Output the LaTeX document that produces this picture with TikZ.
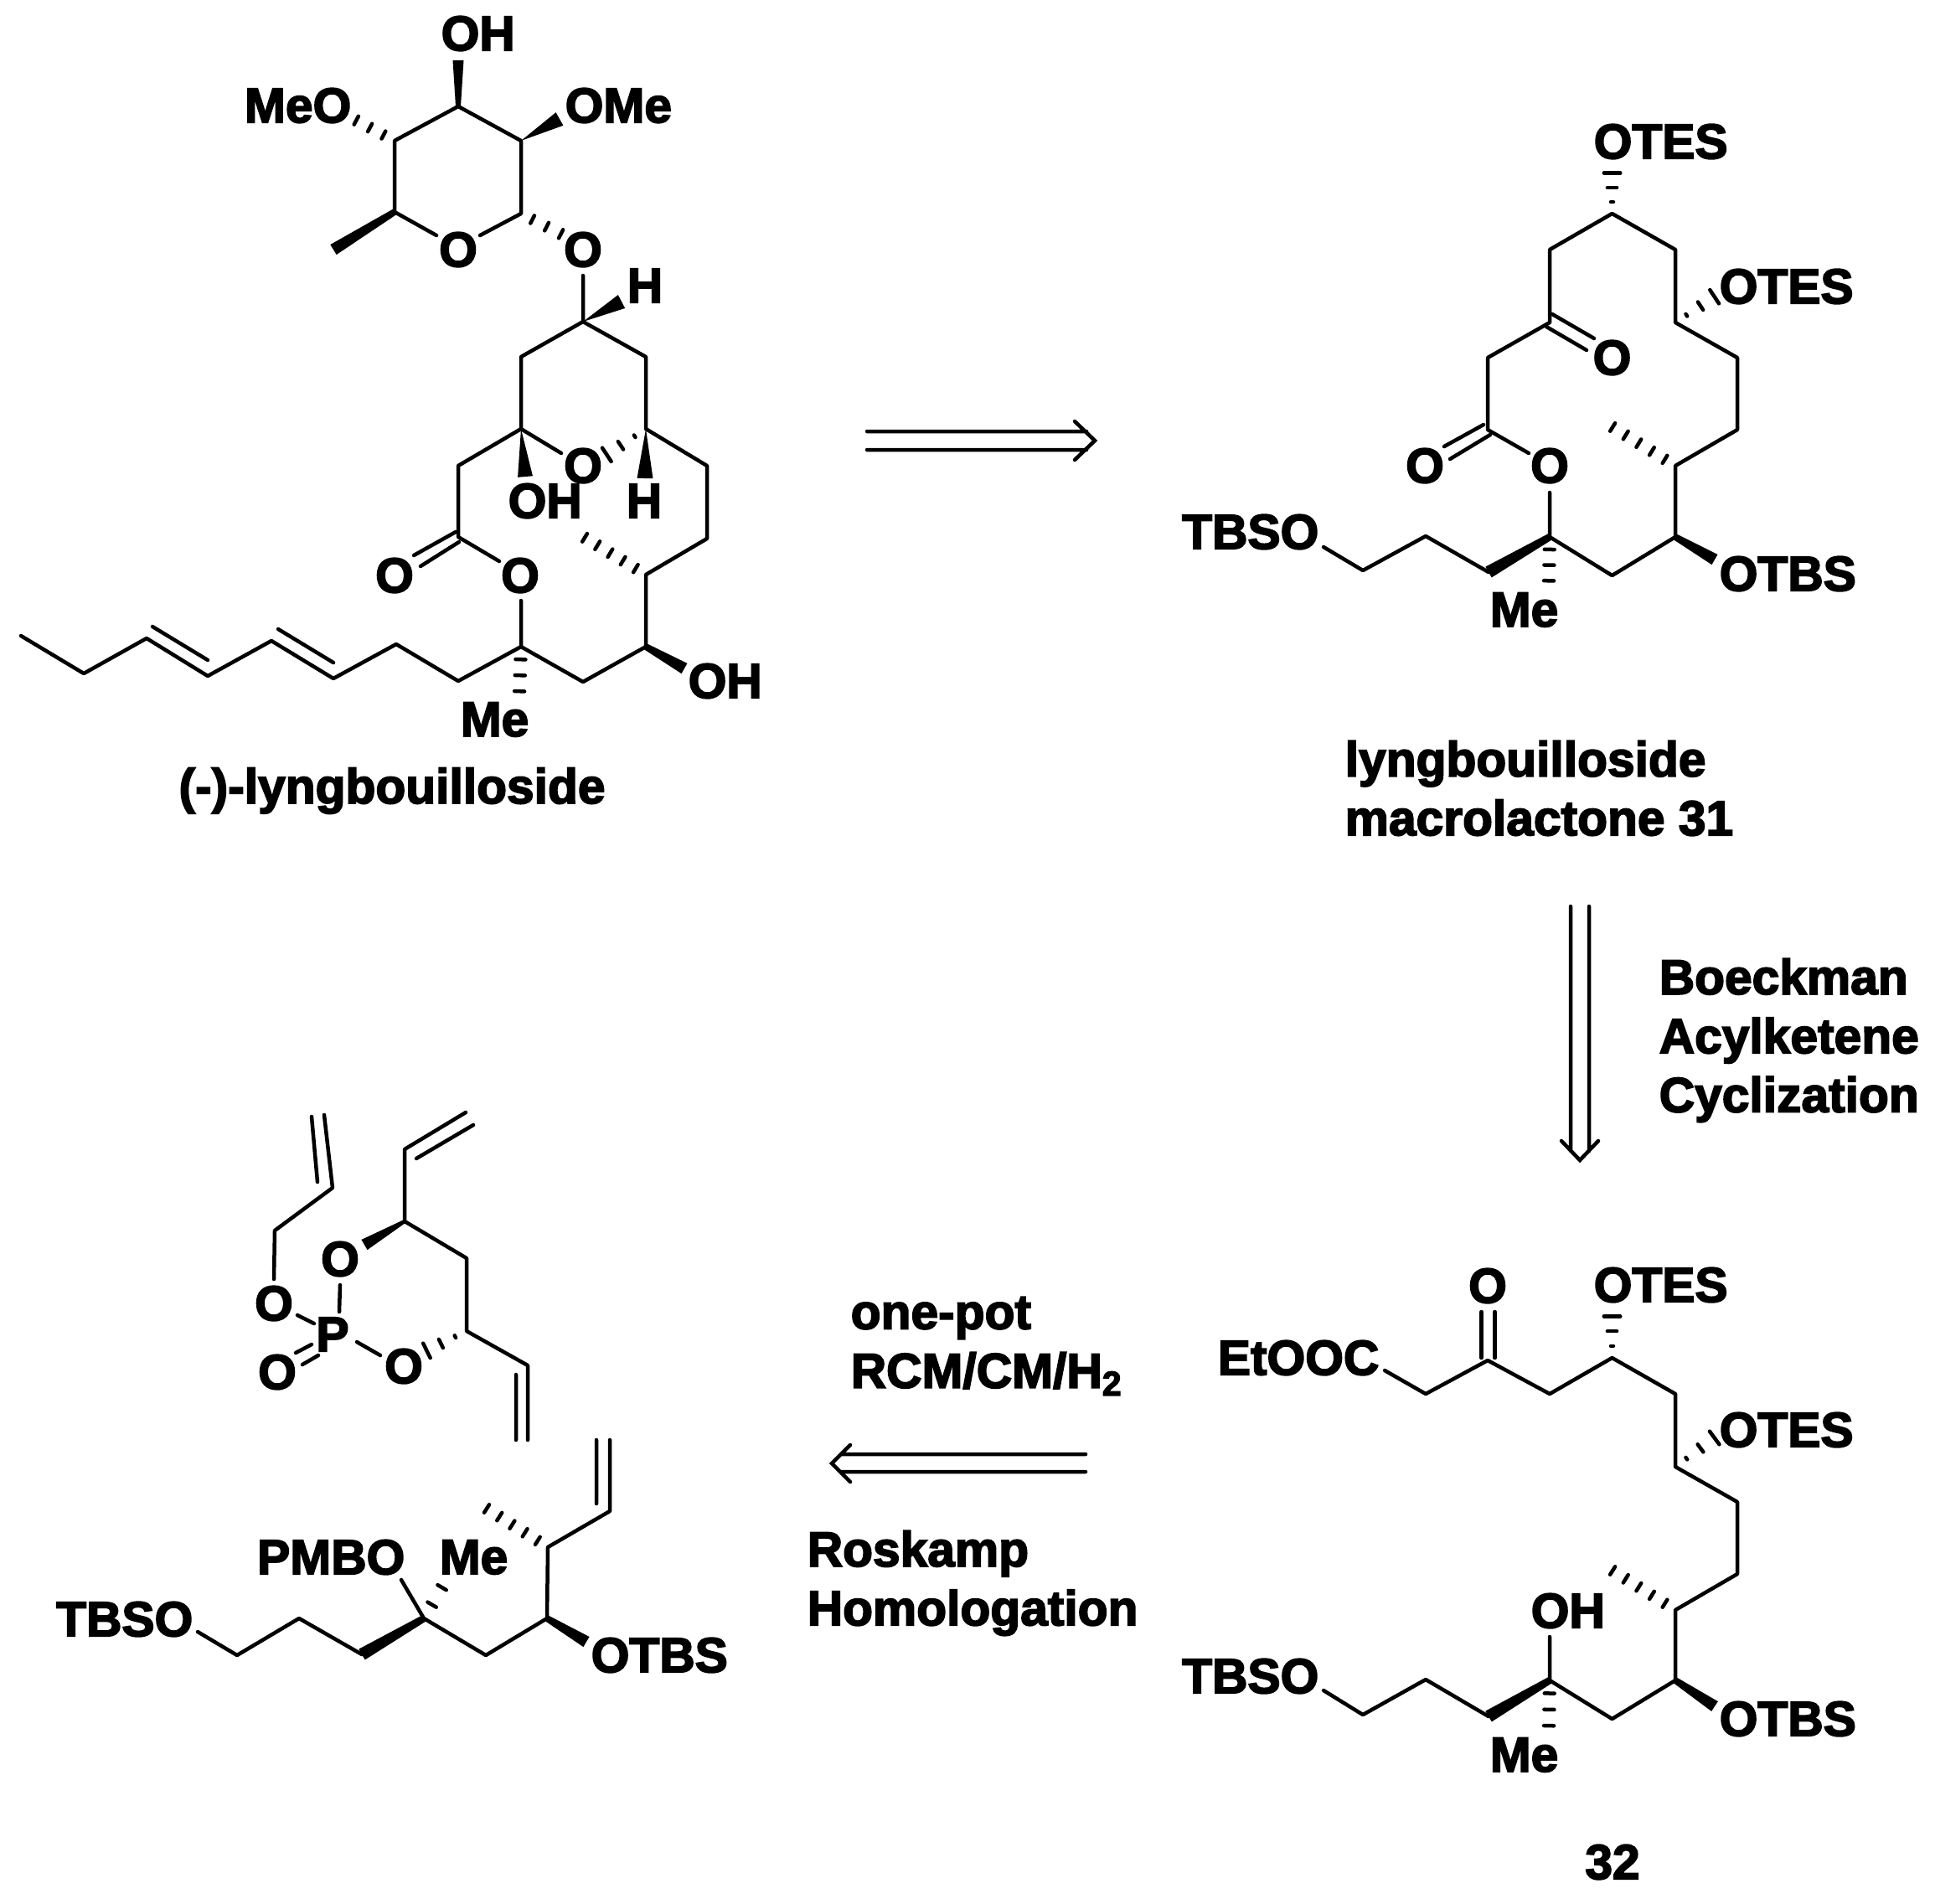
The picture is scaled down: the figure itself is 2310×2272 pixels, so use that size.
\documentclass[tikz,border=0pt]{standalone}
\usepackage{fontspec}
\setmainfont{Liberation Sans}[BoldFeatures={FakeBold=3}]
\usetikzlibrary{calc}
\tikzset{
  bond/.style={line width=0.045cm, line cap=round, line join=round},
  hashline/.style={line width=0.045cm, line cap=round},
  retro/.style={line width=0.045cm, line cap=round, line join=miter},
  chemlabel/.style={font=\fontsize{16.7}{20}\selectfont\bfseries, inner sep=0pt, align=left}
}
\newcommand{\atoms}[1]{\foreach \n/\x/\y in {#1} {\coordinate (\n) at (\x,\y);}}
\newcommand{\wedgebond}[4]{\fill ($(#1)!#3!90:(#2)$) -- ($(#2)!#4!-90:(#1)$) -- ($(#2)!#4!90:(#1)$) -- ($(#1)!#3!-90:(#2)$) -- cycle;}
\newcommand{\hashbond}[5]{%
  \foreach \i in {1,...,#3} {
    \pgfmathsetmacro{\hashpos}{(\i-0.2)/#3}
    \pgfmathsetmacro{\hashwid}{#4+(#5-#4)*\hashpos}
    \draw[hashline] ($(#1)!\hashpos!(#2)!\hashwid pt!90:(#2)$) -- ($(#1)!\hashpos!(#2)!\hashwid pt!-90:(#2)$);
  }}
\begin{document}
\begin{tikzpicture}[x=0.01cm, y=-0.01cm]
  \useasboundingbox (0,0) rectangle (2310,2272);

  % lyngbouilloside: sugar
  \atoms{ga/547/127, gb/622/168, gc/622/255, gd/573/281, ge/521/281, gf/471/253, gg/471/168,
    gh/547/72, gi/668/142, gj/673/281, gk/398/298, gl/422/142}
  \draw[bond] (gd) -- (gc) -- (gb) -- (ga) -- (gg) -- (gf) -- (ge);
  \wedgebond{ga}{gh}{0.85pt}{1.85pt}
  \wedgebond{gb}{gi}{0pt}{2.55pt}
  \wedgebond{gf}{gk}{1.1pt}{2pt}
  \hashbond{gc}{gj}{3}{1.4pt}{1.6pt}
  \hashbond{gg}{gl}{3}{1.4pt}{1.6pt}
  \node[chemlabel, anchor=west] (gho) at (526,40) {OH};
  \node[chemlabel, anchor=east] (gme) at (420,126) {MeO};
  \node[chemlabel, anchor=west] (gom) at (674,126) {OMe};
  \node[chemlabel, anchor=center] (gro) at (547,298) {O};
  \node[chemlabel, anchor=center] (glo) at (696,298) {O};

  % lyngbouilloside: macrolactone
  \atoms{ma/696/329, mb/696/384, mc/622/426, md/622/512, me/771/426, mf/771/512,
    mg/742/360, mh/670/541, mi/721/545, mj/627/569, mk/770/571,
    ml/547/556, mm/547/641, mn/544/635, mo/494/663, mp/548/647, mq/502/676, mr/596/670,
    ms/622/717, mt/622/772, mu/844/556, mv/844/643, mw/771/686, mx/771/772, my/696/814,
    mz/695/640, na/817/798, nb/620/829, nc/547/813, nd/473/769, ne/398/810, nf/324/765,
    ng/248/807, nh/175/762, ni/100/804, nj/25/759, nk/398/791, nl/332/751, nm/248/788, nn/182/748}
  \draw[bond] (ma) -- (mb) -- (mc) -- (md) -- (mh);
  \draw[bond] (mb) -- (me) -- (mf) -- (mu) -- (mv) -- (mw) -- (mx) -- (my) -- (mt) -- (ms);
  \draw[bond] (md) -- (ml) -- (mm) -- (mr);
  \draw[bond] (mn) -- (mo) (mp) -- (mq);
  \draw[bond] (mt) -- (nc) -- (nd) -- (ne) -- (nf) -- (ng) -- (nh) -- (ni) -- (nj);
  \draw[bond] (nk) -- (nl) (nm) -- (nn);
  \wedgebond{mb}{mg}{0pt}{2.55pt}
  \wedgebond{md}{mj}{0pt}{2.55pt}
  \wedgebond{mf}{mk}{0pt}{2.7pt}
  \wedgebond{mx}{na}{1.1pt}{2pt}
  \hashbond{mf}{mi}{3}{-0.5pt}{3pt}
  \hashbond{mw}{mz}{5}{1.5pt}{1.6pt}
  \hashbond{mt}{nb}{3}{1.7pt}{1.7pt}
  \node[chemlabel, anchor=center] (mho) at (770,341) {H};
  \node[chemlabel, anchor=center] (mbo) at (696,556) {O};
  \node[chemlabel, anchor=west] (moh) at (606,598) {OH};
  \node[chemlabel, anchor=center] (mhb) at (769,598) {H};
  \node[chemlabel, anchor=center] (mco) at (471,687) {O};
  \node[chemlabel, anchor=center] (mlo) at (621,687) {O};
  \node[chemlabel, anchor=west] (mhy) at (821,813) {OH};
  \node[chemlabel, anchor=west] (mme) at (549,859) {Me};
  \node[chemlabel, anchor=center] (mtt) at (468,944) {(-)-lyngbouilloside};

  % retro arrows
  \atoms{ra/1035/515, rb/1297/515, rc/1035/537, rd/1297/537, re/1283/503, rf/1307/526, rg/1283/549,
    sa/1875/1082, sb/1875/1374, sc/1897/1082, sd/1897/1374, se/1864/1362, sf/1886/1385, sg/1908/1362,
    ta/1296/1736, tb/1004/1736, tc/1296/1757, td/1004/1757, te/1015/1725, tf/993/1747, tg/1015/1769}
  \draw[retro] (ra) -- (rb) (rc) -- (rd) (re) -- (rf) -- (rg);
  \draw[retro] (sa) -- (sb) (sc) -- (sd) (se) -- (sf) -- (sg);
  \draw[retro] (ta) -- (tb) (tc) -- (td) (te) -- (tf) -- (tg);
  \node[chemlabel, anchor=west] (rca) at (1980,1242) {Boeckman\\Acylketene\\Cyclization};
  \node[chemlabel, anchor=west] (rcb) at (1015,1607) {one-pot\\RCM/CM/H\textsubscript{2}};
  \node[chemlabel, anchor=west] (rcc) at (963,1890) {Roskamp\\Homologation};

  % macrolactone 31
  \atoms{aa/1924.5/255, ab/1924.5/203, ac/2000/298, ad/2000/385, ae/2074/427, af/2074/513, ag/2000/556,
    ah/2000/641, ai/1924.5/687, aj/1850/641, ak/1850/588, al/1850/298, am/1850/385, an/1776/427, ao/1776/513,
    ap/1853/375, aq/1903/404, ar/1846/390, as/1894/418, at/1771/507, au/1724/533, av/1779/519, aw/1731/548,
    ax/1825/541, ay/2050/352, az/1922/508, ba/2047/668, bb/1849/697, bc/1777/683, bd/1702/640,
    be/1627/681, bf/1580/653}
  \draw[bond] (ak) -- (aj) -- (ai) -- (ah) -- (ag) -- (af) -- (ae) -- (ad) -- (ac) -- (aa) -- (al) -- (am) -- (an) -- (ao) -- (ax);
  \draw[bond] (ap) -- (aq) (ar) -- (as) (at) -- (au) (av) -- (aw);
  \draw[bond] (bc) -- (bd) -- (be) -- (bf);
  \wedgebond{ah}{ba}{1.1pt}{2pt}
  \wedgebond{aj}{bc}{1.2pt}{2.1pt}
  \hashbond{aa}{ab}{3}{-0.5pt}{3pt}
  \hashbond{ad}{ay}{3}{-0.5pt}{3pt}
  \hashbond{ag}{az}{5}{1.5pt}{1.6pt}
  \hashbond{aj}{bb}{3}{1.7pt}{1.7pt}
  \node[chemlabel, anchor=west] (aot) at (1902,169) {OTES};
  \node[chemlabel, anchor=west] (aos) at (2052,342) {OTES};
  \node[chemlabel, anchor=center] (ako) at (1924.5,427) {O};
  \node[chemlabel, anchor=center] (aeo) at (1701,556) {O};
  \node[chemlabel, anchor=center] (alo) at (1850,556) {O};
  \node[chemlabel, anchor=east] (ats) at (1575,635) {TBSO};
  \node[chemlabel, anchor=west] (atb) at (2052,685) {OTBS};
  \node[chemlabel, anchor=west] (ame) at (1778,728) {Me};
  \node[chemlabel, anchor=west] (acp) at (1605,941) {lyngbouilloside\\macrolactone 31};

  % ketoester 32
  \atoms{ka/1768.5/1566, kb/1768.5/1621, kc/1784.5/1566, kd/1784.5/1621, ke/1776/1624, kf/1702/1664, kg/1653/1636,
    kh/1850/1664, ki/1924.5/1621, kj/1924.5/1568, kk/2000/1664, kl/2000/1751, km/2074/1793, kn/2074/1879,
    ko/2000/1922, kp/2000/2006, kq/1924.5/2052, kr/1850/2006, ks/1850/1954, kt/2050/1714, ku/1922/1873,
    kv/2047/2037, kw/1849/2064, kx/1777/2049, ky/1702/2005, kz/1627/2047, ja/1580/2018}
  \draw[bond] (ka) -- (kb) (kc) -- (kd);
  \draw[bond] (kg) -- (kf) -- (ke) -- (kh) -- (ki) -- (kk) -- (kl) -- (km) -- (kn) -- (ko) -- (kp) -- (kq) -- (kr) -- (ks);
  \draw[bond] (kx) -- (ky) -- (kz) -- (ja);
  \wedgebond{kp}{kv}{1.1pt}{2pt}
  \wedgebond{kr}{kx}{1.2pt}{2.1pt}
  \hashbond{ki}{kj}{3}{-0.5pt}{3pt}
  \hashbond{kl}{kt}{3}{-0.5pt}{3pt}
  \hashbond{ko}{ku}{5}{1.5pt}{1.6pt}
  \hashbond{kr}{kw}{3}{1.7pt}{1.7pt}
  \node[chemlabel, anchor=center] (kco) at (1776,1535) {O};
  \node[chemlabel, anchor=west] (kot) at (1902,1534) {OTES};
  \node[chemlabel, anchor=east] (ket) at (1647,1621) {EtOOC};
  \node[chemlabel, anchor=west] (kos) at (2052,1707) {OTES};
  \node[chemlabel, anchor=west] (koh) at (1827,1923) {OH};
  \node[chemlabel, anchor=east] (kts) at (1575,2001) {TBSO};
  \node[chemlabel, anchor=west] (ktb) at (2052,2052) {OTBS};
  \node[chemlabel, anchor=west] (kme) at (1778,2095) {Me};
  \node[chemlabel, anchor=center] (kcp) at (1925,2223) {32};

  % phosphate
  \atoms{pa/387/1331, pb/397/1418, pc/372/1333, pd/379/1411, pe/328/1469, pf/327/1527, pg/355/1570, ph/375/1580,
    pi/406/1534, pj/405/1566, pk/483/1458, pl/435/1486, pm/483/1372, pn/556/1328, po/497/1383, pp/565/1343,
    pq/557/1502, pr/557/1589, ps/630/1630, pt/630/1719, pu/616/1641, pv/616/1719, pw/426/1602, px/454/1618,
    py/506/1614, pz/353/1615, qa/372/1605, qb/361/1629, qc/380/1618}
  \draw[bond] (pa) -- (pb) -- (pe) -- (pf) (pc) -- (pd);
  \draw[bond] (pg) -- (ph) (pi) -- (pj) (pw) -- (px) (pz) -- (qa) (qb) -- (qc);
  \draw[bond] (pn) -- (pm) -- (pk) -- (pq) -- (pr) -- (ps) -- (pt) (po) -- (pp) (pu) -- (pv);
  \wedgebond{pk}{pl}{0.6pt}{2pt}
  \hashbond{pr}{py}{3}{-0.5pt}{3pt}
  \node[chemlabel, anchor=center] (pao) at (327,1556) {O};
  \node[chemlabel, anchor=center] (pbo) at (406,1503) {O};
  \node[chemlabel, anchor=center] (pat) at (397,1593) {P};
  \node[chemlabel, anchor=center] (pco) at (482,1631) {O};
  \node[chemlabel, anchor=center] (pdo) at (331,1638) {O};

  % side chain
  \atoms{ua/712/1719, ub/712/1795, uc/728/1719, ud/728/1804, ue/654/1847, uf/653/1932, ug/578/1799, uh/700/1960,
    ui/580/1976, uj/506/1932, uk/479/1886, ul/530/1891, um/432/1975, un/357/1932, uo/283/1976, up/236/1948}
  \draw[bond] (ua) -- (ub) (uc) -- (ud) -- (ue) -- (uf) -- (ui) -- (uj) -- (uk);
  \draw[bond] (um) -- (un) -- (uo) -- (up);
  \wedgebond{uf}{uh}{1.1pt}{2pt}
  \wedgebond{uj}{um}{1.2pt}{2.1pt}
  \hashbond{ue}{ug}{5}{1.5pt}{1.6pt}
  \hashbond{uj}{ul}{2}{1.7pt}{1.7pt}
  \node[chemlabel, anchor=east] (upm) at (484,1859) {PMBO};
  \node[chemlabel, anchor=west] (ume) at (524,1859) {Me};
  \node[chemlabel, anchor=east] (uts) at (231,1933) {TBSO};
  \node[chemlabel, anchor=west] (utb) at (705,1976) {OTBS};
\end{tikzpicture}
\end{document}
